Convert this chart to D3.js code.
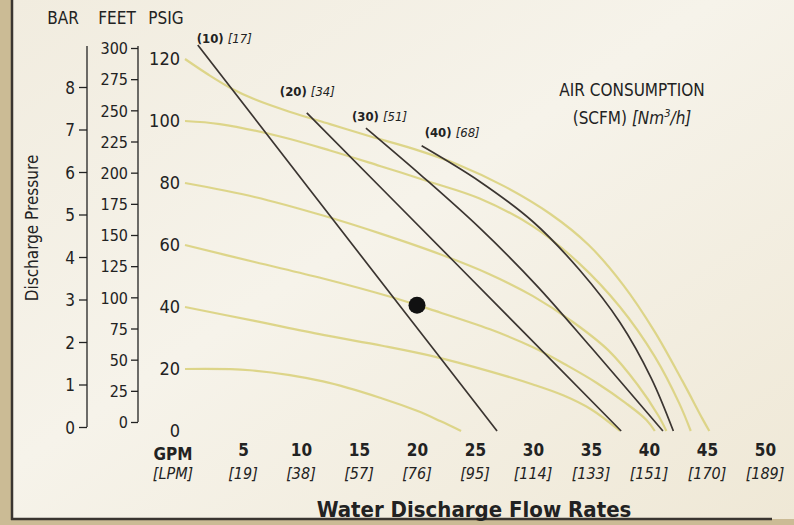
<!DOCTYPE html>
<html lang="en">
<head>
<meta charset="utf-8">
<title>Pump Performance Curve</title>
<script src="https://d3js.org/d3.v7.min.js"></script>
<style>
  body { margin:0; background:#cbbb95; }
  svg { display:block; }
  text { font-family: "Liberation Sans Narrow", "DejaVu Sans Condensed", "Liberation Sans", sans-serif; fill:#222; }
</style>
</head>
<body>
<svg id="chart" width="794" height="525"></svg>
<script>
// tick values / labels
var psigTicks = [0, 20, 40, 60, 80, 100, 120]
var feetTicks = [0, 25, 50, 75, 100, 125, 150, 175, 200, 225, 250, 275, 300]
var barTicks = [0, 1, 2, 3, 4, 5, 6, 7, 8]
var gpmTicks = [5, 10, 15, 20, 25, 30, 35, 40, 45, 50]
var lpmLabels = ["[19]", "[38]", "[57]", "[76]", "[95]", "[114]", "[133]", "[151]", "[170]", "[189]"]

// air consumption lines, [gpm, psig]
var scfmNames = ["(10)", "(20)", "(30)", "(40)"]
var nm3Names = ["[17]", "[34]", "[51]", "[68]"]
var scfm10 = [[1.1, 124.5], [18.6, 40], [26.9, 0]]
var scfm20 = [[10.5, 102.6], [23.1, 55], [37.6, 0]]
var scfm30 = [[15.6, 97.7], [20.5, 82], [25.4, 65.5], [30.3, 47], [35, 27], [41.2, 0]]
var scfm40 = [[20.4, 92], [25.4, 80.5], [30, 67.5], [34, 52], [37.5, 35], [40.2, 17], [42.1, 0]]

// air inlet pressure curves, [gpm, psig]
var air120 = [[0, 120], [2, 115], [4, 110.5], [6, 107], [9, 103], [12.5, 99], [16, 95], [19.7, 91], [23.5, 86], [27.5, 79], [31.5, 70], [34.8, 60], [37.8, 47], [40.5, 32], [42.9, 16], [44.6, 4], [45.2, 0]]
var air100 = [[0, 100], [3, 99], [8.2, 95], [12.5, 90.5], [16.8, 85.5], [21, 80.5], [25.4, 75], [30, 66], [34, 54], [37.5, 40], [40.5, 24], [42.6, 9], [43.6, 0]]
var air80 = [[0, 80], [6, 75.5], [11.9, 69.5], [17, 63.5], [22, 57], [26.3, 50.5], [30, 43.5], [33.5, 35], [36.5, 26], [39, 15], [40.8, 5], [41.5, 0]]
var air60 = [[0, 60], [6, 54.5], [11.9, 49.2], [17.7, 43.3], [21.1, 39.3], [26.3, 32.8], [30, 27], [33, 21], [35.5, 15.5], [38, 9], [39.8, 3.5], [40.5, 0]]
var air40 = [[0, 40], [6, 35.5], [11.9, 31], [17, 27.5], [21.5, 24], [26.5, 19], [30, 15], [32.6, 11.5], [35, 7], [37.5, 0]]
var air20 = [[0, 20], [5.6, 19.6], [11.9, 16], [17, 10.5], [20, 6.5], [22, 3.2], [23.8, 0]]

// operating point
var opPoint = [20, 40.6]

var svg = d3.select("#chart")

// background / frame
var defs = svg.append("defs")
var grad = defs.append("linearGradient").attr("id", "bg").attr("x1", 0).attr("y1", 0).attr("x2", 1).attr("y2", 1)
grad.append("stop").attr("offset", "0%").attr("stop-color", "#f1ecdf")
grad.append("stop").attr("offset", "45%").attr("stop-color", "#f6f3ea")
grad.append("stop").attr("offset", "100%").attr("stop-color", "#efe8d6")

svg.append("rect").attr("x", 0).attr("y", 0).attr("width", 794).attr("height", 525).attr("fill", "#cbbb95")
svg.append("rect").attr("x", 12).attr("y", 0).attr("width", 782).attr("height", 519).attr("fill", "url(#bg)")
svg.append("line").attr("x1", 12).attr("x2", 12).attr("y1", 0).attr("y2", 520)
  .attr("stroke", "#3a3530").attr("stroke-width", 2.5)
svg.append("line").attr("x1", 11).attr("x2", 772).attr("y1", 519).attr("y2", 519)
  .attr("stroke", "#3a3530").attr("stroke-width", 2.5)

// scales
var x = d3.scaleLinear().domain([0, 50]).range([185, 765])
var y = d3.scaleLinear().domain([0, 120]).range([431, 59])
var barY = d3.scaleLinear().domain([0, 8]).range([427, 87])
var feetY = d3.scaleLinear().domain([0, 300]).range([422, 48])

// BAR axis
var barAxis = svg.append("g").attr("transform", "translate(87,0)")
  .call(d3.axisLeft(barY).tickValues(barTicks).tickSize(8).tickPadding(4).tickSizeOuter(0))
barAxis.select(".domain").remove()
barAxis.append("line").attr("y1", barY(0)).attr("y2", feetY(300) - 2).attr("stroke", "#222").attr("stroke-width", 1.3)
barAxis.selectAll("text").style("font-size", "17px").attr("dy", "0.36em")

// FEET axis
var feetAxis = svg.append("g").attr("transform", "translate(138,0)")
  .call(d3.axisLeft(feetY).tickValues(feetTicks).tickSize(7).tickPadding(3).tickSizeOuter(0))
feetAxis.select(".domain").remove()
feetAxis.append("line").attr("y1", feetY(0)).attr("y2", feetY(300) - 2).attr("stroke", "#222").attr("stroke-width", 1.3)
feetAxis.selectAll("text").style("font-size", "16px").attr("dy", "0.36em")
svg.selectAll(".tick line").attr("stroke", "#222").attr("stroke-width", 1.3)

// PSIG labels
svg.append("g").selectAll("text").data(psigTicks).enter().append("text")
  .attr("x", 180).attr("y", d => y(d)).attr("dy", "0.36em")
  .attr("text-anchor", "end").style("font-size", "18px").text(d => d)

// unit headers
var heads = [["BAR", 63], ["FEET", 117], ["PSIG", 166]]
svg.append("g").selectAll("text").data(heads).enter().append("text")
  .attr("x", d => d[1]).attr("y", 24).attr("text-anchor", "middle")
  .style("font-size", "17px").text(d => d[0])

svg.append("text").attr("transform", "translate(38,228) rotate(-90)")
  .attr("text-anchor", "middle").style("font-size", "17px").text("Discharge Pressure")

// X axis labels
var xAxis = svg.append("g").attr("transform", "translate(0,444)")
  .call(d3.axisBottom(x).tickValues(gpmTicks).tickSize(0).tickPadding(0))
xAxis.select(".domain").remove()
xAxis.selectAll("text").style("font-size", "17px").style("font-weight", "bold").attr("dy", "0.71em")

svg.append("g").selectAll("text").data(lpmLabels).enter().append("text")
  .attr("x", (d, i) => x(gpmTicks[i])).attr("y", 479).attr("text-anchor", "middle")
  .style("font-size", "16px").style("font-style", "italic").text(d => d)

svg.append("text").attr("x", x(0) - 12).attr("y", 460).attr("text-anchor", "middle")
  .style("font-size", "17px").style("font-weight", "bold").text("GPM")
svg.append("text").attr("x", x(0) - 12).attr("y", 479).attr("text-anchor", "middle")
  .style("font-size", "16px").style("font-style", "italic").text("[LPM]")

svg.append("text").attr("x", 474).attr("y", 517).attr("text-anchor", "middle")
  .style("font-size", "22px").style("font-weight", "bold").text("Water Discharge Flow Rates")

// air consumption header
svg.append("text").attr("x", 632).attr("y", 96).attr("text-anchor", "middle")
  .style("font-size", "17px").text("AIR CONSUMPTION")
var sub = svg.append("text").attr("x", 632).attr("y", 124).attr("text-anchor", "middle").style("font-size", "17px")
sub.append("tspan").text("(SCFM)  ")
sub.append("tspan").style("font-style", "italic").text("[Nm")
sub.append("tspan").style("font-style", "italic").style("font-size", "11px").attr("dy", -7).text("3")
sub.append("tspan").style("font-style", "italic").attr("dy", 7).text("/h]")

// curves
var line = d3.line().x(d => x(d[0])).y(d => y(d[1])).curve(d3.curveCatmullRom.alpha(0.5))

var airCurves = [air120, air100, air80, air60, air40, air20]
svg.append("g").selectAll("path").data(airCurves).enter().append("path")
  .attr("d", line).attr("fill", "none")
  .attr("stroke", "#dad27e").attr("stroke-width", 2.2).attr("opacity", 0.9)

var scfmLines = [scfm10, scfm20, scfm30, scfm40]
svg.append("g").selectAll("path").data(scfmLines).enter().append("path")
  .attr("d", line).attr("fill", "none")
  .attr("stroke", "#3b3531").attr("stroke-width", 1.7)

// labels at top of each consumption line
var labDx = [-1, -27, -14, 3]
var labDy = [-2, -17, -7, -9]
var labs = svg.append("g").selectAll("text").data(scfmLines).enter().append("text")
  .attr("x", (d, i) => x(d[0][0]) + labDx[i])
  .attr("y", (d, i) => y(d[0][1]) + labDy[i])
  .style("font-size", "13px")
labs.append("tspan").style("font-weight", "bold").text((d, i) => scfmNames[i] + " ")
labs.append("tspan").style("font-style", "italic").text((d, i) => nm3Names[i])

// operating point
svg.append("circle").attr("cx", x(opPoint[0])).attr("cy", y(opPoint[1])).attr("r", 8.5).attr("fill", "#111")
</script>
</body>
</html>
